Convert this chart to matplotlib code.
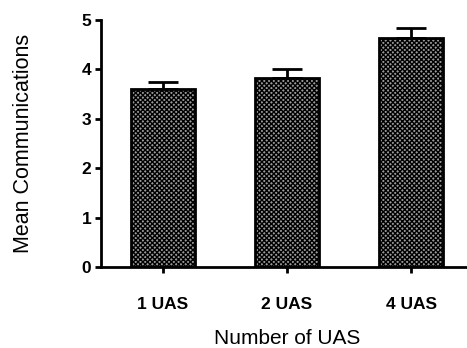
import numpy as np
import matplotlib.pyplot as plt

plt.rcParams['font.family'] = ['Liberation Sans', 'DejaVu Sans']
plt.rcParams['hatch.linewidth'] = 1.0

categories = ['1 UAS', '2 UAS', '4 UAS']
means = [3.60, 3.83, 4.64]
sem = [0.14, 0.18, 0.20]

fig = plt.figure(figsize=(4.67, 3.48), dpi=100)
ax = fig.add_axes([0.216, 0.233, 0.797, 0.71])

x = np.arange(len(categories))
ax.bar(x, means, width=0.51, color='#9a9a9a', edgecolor='black',
       linewidth=2, hatch='xxxxxxx', zorder=2)
ax.errorbar(x, means, yerr=[np.zeros(len(sem)), sem], fmt='none',
            ecolor='black', elinewidth=2, capsize=11, capthick=2, zorder=1)

ax.set_xlim(-0.5, 2.5)
ax.set_ylim(0, 5)
ax.set_yticks([0, 1, 2, 3, 4, 5])
ax.set_xticks(x)
ax.set_xticklabels(categories)
for s in ['top', 'right']:
    ax.spines[s].set_visible(False)
for s in ['left', 'bottom']:
    ax.spines[s].set_linewidth(2)
ax.tick_params(axis='both', direction='out', length=4, width=2,
               labelsize=12.5, pad=3)
ax.tick_params(axis='x', pad=18)
for lab in ax.get_xticklabels() + ax.get_yticklabels():
    lab.set_fontweight('bold')

ax.set_ylabel('Mean Communications', fontsize=15.5, labelpad=34)
ax.set_xlabel('Number of UAS', fontsize=15, labelpad=12)

plt.savefig('out.png', dpi=100)
